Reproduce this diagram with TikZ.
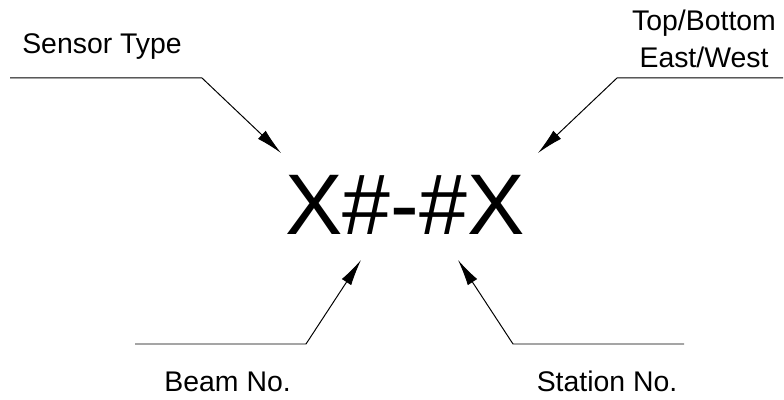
\documentclass[tikz,border=0pt]{standalone}
\usepackage{fontspec}
\setmainfont{Liberation Sans}
\usetikzlibrary{arrows.meta,positioning,calc}
\tikzset{
  leader/.style={draw, line width=0.7pt, -{Latex[length=0.66cm,width=0.28cm]}},
  lbl/.style={font=\fontsize{20.2}{26.3}\selectfont, inner sep=0pt},
}
\begin{document}
\begin{tikzpicture}
    \useasboundingbox (0,0) rectangle (19.6,10);
    \node[font=\fontsize{61.2}{70}\selectfont, inner sep=0pt, anchor=base] (code) at (10.125,4.125) {X\#-\#X};
    \node[lbl, anchor=base west] (sensor) at (0.55,8.65) {Sensor Type};
    \node[lbl, align=center] (side) at (17.6,9.025) {Top/Bottom\\East/West};
    \node[lbl, anchor=base] (beam) at (5.69,0.2) {Beam No.};
    \node[lbl, anchor=base] (station) at (15.175,0.2) {Station No.};
    % leader lines
    \coordinate (sensorA) at (0.25,8.05);
    \coordinate (sensorB) at (5.05,8.05);
    \coordinate (sensorTip) at (7.025,6.175);
    \coordinate (sideA) at (19.575,8.05);
    \coordinate (sideB) at (15.425,8.05);
    \coordinate (sideTip) at (13.45,6.175);
    \coordinate (beamA) at (3.375,1.4);
    \coordinate (beamB) at (7.65,1.4);
    \coordinate (beamTip) at (9.025,3.5);
    \coordinate (stationA) at (17.1,1.4);
    \coordinate (stationB) at (12.825,1.4);
    \coordinate (stationTip) at (11.45,3.5);
    \draw[leader] (sensorA) -- (sensorB) -- (sensorTip);
    \draw[leader] (sideA) -- (sideB) -- (sideTip);
    \draw[leader] (beamA) -- (beamB) -- (beamTip);
    \draw[leader] (stationA) -- (stationB) -- (stationTip);
  \end{tikzpicture}
\end{document}
